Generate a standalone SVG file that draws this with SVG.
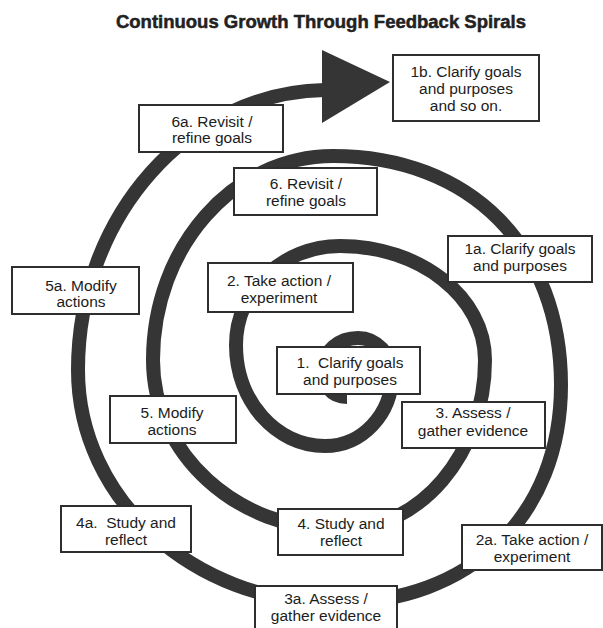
<svg xmlns="http://www.w3.org/2000/svg" width="603" height="628" viewBox="0 0 603 628">
<style>
.bx{fill:#fff;stroke:#2e2e2e;stroke-width:2}
.t{font-family:"Liberation Sans",Arial,sans-serif;font-size:15.5px;fill:#1c1c1c;text-anchor:middle;white-space:pre}
.title{font-family:"Liberation Sans",Arial,sans-serif;font-size:18.5px;font-weight:bold;fill:#222;stroke:#222;stroke-width:0.5;text-anchor:middle}
.sp{fill:none;stroke:#353535;stroke-width:14}
</style>
<rect width="603" height="628" fill="#fff"/>
<text class="title" x="321" y="28">Continuous Growth Through Feedback Spirals</text>
<g id="connectors">
<path class="sp" d="M 347 397 C 331 397, 323 386, 323 368 C 323 351.4, 338.7 338, 358 338 C 376.8 338, 392 354.6, 392 375 C 392 414.2, 362 446, 325 446 C 275.8 446, 236 400.8, 236 345 C 236 290.3, 282.6 246, 340 246 C 420.1 246, 485 297, 485 360 C 485 453.9, 420.1 530, 340 530 C 236.7 530, 153 453.9, 153 360 C 153 246.8, 233.6 156, 333 156 C 469.8 156, 561 247, 561 385 C 561 515.8, 470.6 603, 335 603 C 193.1 603, 78 498.7, 78 370 C 78 215, 190 92, 325 90"/>
<polygon points="322,50 390,82 322,123" fill="#353535"/>
</g>
<g id="n1b"><rect class="bx" x="393" y="55" width="146" height="66"/><text class="t" x="466" y="77">1b. Clarify goals</text><text class="t" x="466" y="94">and purposes</text><text class="t" x="466" y="111">and so on.</text></g>
<g id="n6a"><rect class="bx" x="139" y="105" width="144" height="47"/><text class="t" x="212" y="127">6a. Revisit /</text><text class="t" x="212" y="143">refine goals</text></g>
<g id="n6"><rect class="bx" x="234" y="168" width="143" height="47"/><text class="t" x="306" y="189">6. Revisit /</text><text class="t" x="306" y="206">refine goals</text></g>
<g id="n1a"><rect class="bx" x="448" y="236" width="144" height="46"/><text class="t" x="520" y="254">1a. Clarify goals</text><text class="t" x="520" y="271">and purposes</text></g>
<g id="n5a"><rect class="bx" x="12" y="267" width="127" height="47"/><text class="t" x="81" y="291">5a. Modify</text><text class="t" x="81" y="307">actions</text></g>
<g id="n2"><rect class="bx" x="208" y="263" width="145" height="49"/><text class="t" x="279" y="286">2. Take action /</text><text class="t" x="279" y="303">experiment</text></g>
<g id="n1"><rect class="bx" x="277" y="347" width="143" height="47"/><text class="t" x="350" y="368">1.  Clarify goals</text><text class="t" x="350" y="385">and purposes</text></g>
<g id="n5"><rect class="bx" x="110" y="396" width="126" height="47"/><text class="t" x="172" y="418">5. Modify</text><text class="t" x="172" y="435">actions</text></g>
<g id="n3"><rect class="bx" x="402" y="402" width="143" height="46"/><text class="t" x="473" y="418">3. Assess /</text><text class="t" x="473" y="436">gather evidence</text></g>
<g id="n4a"><rect class="bx" x="61" y="506" width="130" height="46"/><text class="t" x="126" y="528">4a.  Study and</text><text class="t" x="126" y="545">reflect</text></g>
<g id="n4"><rect class="bx" x="278" y="509" width="125" height="46"/><text class="t" x="341" y="529">4. Study and</text><text class="t" x="341" y="546">reflect</text></g>
<g id="n2a"><rect class="bx" x="462" y="525" width="140" height="45"/><text class="t" x="532" y="545">2a. Take action /</text><text class="t" x="532" y="562">experiment</text></g>
<g id="n3a"><rect class="bx" x="255" y="586" width="142" height="46"/><text class="t" x="326" y="604">3a. Assess /</text><text class="t" x="326" y="621">gather evidence</text></g>
</svg>
